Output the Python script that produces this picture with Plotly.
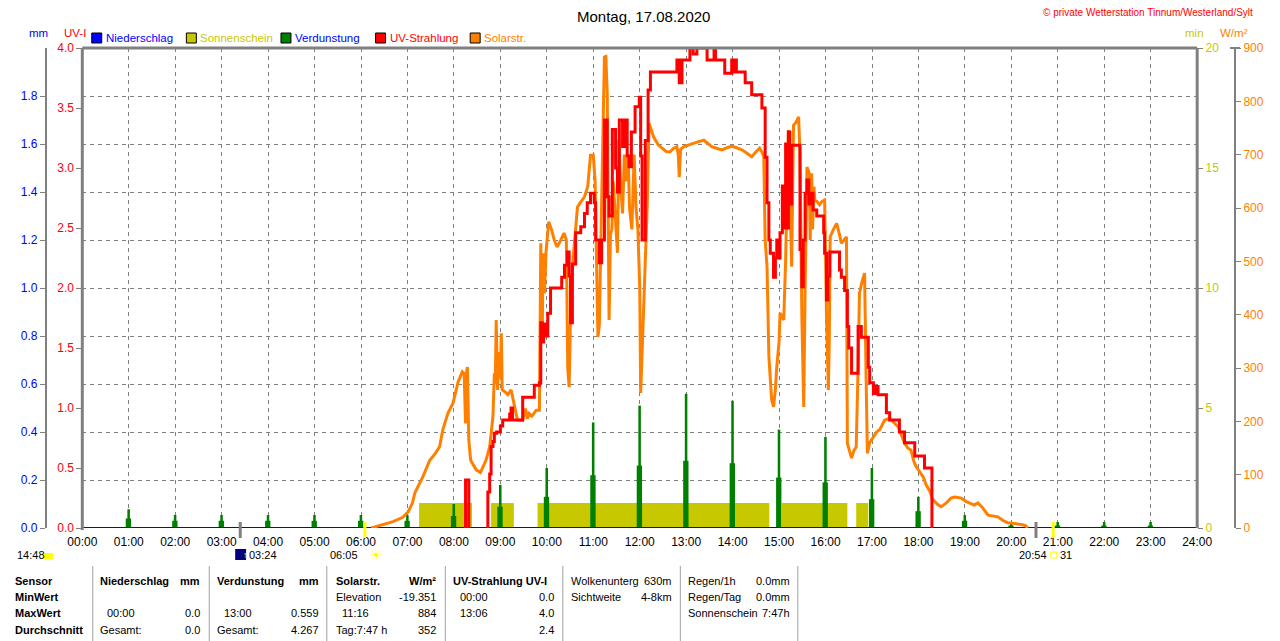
import plotly.graph_objects as go

# the page puts the figure 8px in from the top-left corner,
# so everything below is laid out in reference pixels and shifted by OFF
OFF = 8
W, H = 1280 - OFF, 641 - OFF
ML, MR, MT, MB = 22, 40, 40, 113
PW = W - ML - MR
PH = H - MT - MB


def px(x):
    return (x - OFF - ML) / PW


def py(y):
    return (H - MB - (y - OFF)) / PH


# ---- data -------------------------------------------------------------
hours = list(range(25))
hour_labels = ['%02d:00' % h for h in hours]
mm_ticks = [0.0, 0.2, 0.4, 0.6, 0.8, 1.0, 1.2, 1.4, 1.6, 1.8]

rain_h = [0, 24]
rain_mm = [0.0, 0.0]

sun_start = [7.25, 8.80, 9.80, 15.06, 16.66]
sun_end = [8.39, 9.29, 14.79, 16.47, 16.92]
sun_min = [1.04, 1.04, 1.04, 1.04, 1.04]

verd_h = [1, 2, 3, 4, 5, 6, 7, 8, 9, 10, 11, 12, 13, 14, 15, 16, 17, 18, 19, 20, 21, 22, 23]
verd_mm = [0.078, 0.054, 0.054, 0.054, 0.054, 0.054, 0.054, 0.10, 0.18, 0.25, 0.44, 0.51,
           0.559, 0.53, 0.41, 0.38, 0.25, 0.13, 0.054, 0.025, 0.025, 0.025, 0.025]
verd_low = [0.04, 0.03, 0.03, 0.03, 0.03, 0.03, 0.03, 0.05, 0.089, 0.13, 0.22, 0.26,
            0.28, 0.27, 0.21, 0.19, 0.12, 0.07, 0.03, 0.01, 0.01, 0.01, 0.01]

solar_h = [6.22, 6.40, 6.69, 6.90, 7.01, 7.10, 7.16, 7.33, 7.48, 7.60, 7.69, 7.76, 7.87, 7.98,
           8.09, 8.18, 8.22, 8.25, 8.27, 8.29, 8.31, 8.32, 8.36, 8.48, 8.57, 8.69, 8.77, 8.84,
           8.87, 8.89, 8.91, 8.93, 8.94, 8.97, 9.00, 9.02, 9.04, 9.09, 9.16, 9.23, 9.30, 9.37,
           9.48, 9.54, 9.58, 9.62, 9.68, 9.77, 9.84, 9.85, 9.87, 9.90, 9.92, 9.95, 9.98, 10.04,
           10.10, 10.16, 10.22, 10.30, 10.37, 10.42, 10.45, 10.48, 10.51, 10.56, 10.62, 10.66,
           10.72, 10.81, 10.88, 10.94, 11.00, 11.04, 11.07, 11.10, 11.13, 11.17, 11.21, 11.24,
           11.27, 11.30, 11.32, 11.34, 11.37, 11.40, 11.43, 11.47, 11.52, 11.55, 11.59, 11.63,
           11.67, 11.71, 11.75, 11.78, 11.83, 11.88, 11.92, 11.96, 12.00, 12.02, 12.06, 12.10,
           12.14, 12.16, 12.20, 12.25, 12.30, 12.40, 12.48, 12.57, 12.65, 12.73, 12.80, 12.83,
           12.85, 12.88, 12.95, 13.05, 13.13, 13.25, 13.38, 13.47, 13.55, 13.65, 13.77, 13.88,
           13.98, 14.08, 14.20, 14.30, 14.41, 14.50, 14.58, 14.63, 14.67, 14.70, 14.74, 14.78,
           14.84, 14.88, 14.92, 14.95, 15.00, 15.02, 15.06, 15.10, 15.14, 15.17, 15.20, 15.24,
           15.27, 15.31, 15.36, 15.42, 15.45, 15.49, 15.53, 15.56, 15.60, 15.65, 15.67, 15.70,
           15.72, 15.75, 15.77, 15.82, 15.87, 15.92, 15.98, 16.02, 16.06, 16.08, 16.10, 16.17,
           16.24, 16.30, 16.34, 16.40, 16.45, 16.47, 16.52, 16.56, 16.61, 16.66, 16.70, 16.73,
           16.78, 16.84, 16.87, 16.90, 16.95, 17.03, 17.10, 17.17, 17.27, 17.35, 17.42, 17.49,
           17.56, 17.63, 17.70, 17.77, 17.84, 17.90, 17.95, 18.03, 18.10, 18.17, 18.24, 18.30,
           18.40, 18.49, 18.60, 18.70, 18.77, 18.85, 18.92, 19.02, 19.13, 19.20, 19.28, 19.38,
           19.50, 19.60, 19.71, 19.82, 19.92, 20.03, 20.14, 20.24, 20.31, 20.35]
solar_w = [0, 5, 12, 20, 30, 45, 66, 96, 127, 140, 152, 184, 215, 234,
           274, 293, 290, 196, 290, 302, 200, 165, 127, 109, 104, 127, 152, 209,
           290, 270, 390, 300, 259, 330, 280, 365, 259, 256, 250, 259, 227, 202,
           202, 224, 205, 215, 210, 221, 221, 300, 534, 352, 515, 440, 515, 574,
           560, 540, 527, 540, 553, 540, 300, 264, 400, 500, 560, 602,
           610, 621, 640, 699, 699, 650, 500, 358, 380, 600, 750, 883,
           884, 815, 600, 390, 550, 560, 650, 590, 516, 727, 640, 590,
           700, 650, 700, 600, 560, 700, 600, 560, 450, 253, 350, 456,
           550, 602, 759, 745, 733, 718, 712, 706, 705, 712, 715, 700,
           658, 710, 715, 718, 721, 724, 727, 720, 715, 712, 709, 713,
           716, 713, 709, 703, 696, 705, 712, 705, 696, 540, 490, 321,
           240, 227, 260, 302, 350, 403, 395, 390, 500, 600, 746, 600,
           490, 755, 760, 771, 700, 396, 227, 450, 677, 665, 540, 665,
           560, 640, 615, 612, 606, 612, 615, 400, 259, 350, 546, 560,
           571, 550, 534, 540, 546, 159, 140, 131, 145, 152, 300, 440,
           460, 478, 300, 140, 160, 171, 180, 185, 202, 205, 202, 196,
           190, 175, 159, 150, 146, 125, 115, 105, 96, 80, 70, 55,
           45, 40, 47, 56, 58, 57, 56, 50, 46, 43, 47, 38,
           24, 22, 21, 14, 10, 9, 8, 6, 4, 0]

uv_h = [8.25, 8.25, 8.32, None, 8.73, 8.73, 8.77, 8.80, 8.84, 8.87, 8.92, 9.00, 9.05, 9.20,
        9.23, 9.26, 9.48, 9.55, 9.73, 9.84, 9.87, 9.90, 9.93, 9.96, 10.02, 10.08, 10.32, 10.38,
        10.44, 10.48, 10.51, 10.55, 10.62, 10.73, 10.81, 10.87, 10.94, 11.02, 11.05, 11.13,
        11.18, 11.24, 11.30, 11.34, 11.41, 11.48, 11.52, 11.56, 11.63, 11.68, 11.73, 11.77,
        11.82, 11.90, 11.99, 12.02, 12.05, 12.12, 12.18, 12.23, 12.80, 12.85, 12.91, 13.08,
        13.15, 13.23, 13.45, 13.60, 13.63, 13.83, 13.98, 14.01, 14.05, 14.08, 14.27, 14.41,
        14.63, 14.70, 14.74, 14.78, 14.81, 14.88, 14.92, 14.95, 14.98, 15.02, 15.07, 15.10,
        15.14, 15.17, 15.20, 15.23, 15.27, 15.45, 15.49, 15.52, 15.56, 15.60, 15.64, 15.70,
        15.73, 15.81, 15.96, 15.98, 16.02, 16.05, 16.09, 16.30, 16.34, 16.41, 16.47, 16.50,
        16.56, 16.70, 16.77, 16.92, 16.95, 17.03, 17.09, 17.13, 17.31, 17.38, 17.59, 17.70,
        17.92, 18.13, 18.29]
uv_i = [0.0, 0.4, 0.0, None, 0.0, 0.3, 0.45, 0.68, 0.72, 0.79, 0.8, 0.85, 0.9, 0.95,
        1.0, 0.9, 1.09, 1.09, 1.19, 1.21, 1.71, 1.55, 1.7, 1.6, 1.79, 2.0, 2.09, 2.19,
        2.3, 2.1, 1.71, 2.2, 2.46, 2.51, 2.62, 2.71, 2.79, 2.71, 2.4, 2.21,
        2.4, 3.4, 2.76, 2.6, 3.32, 3.0, 2.8, 3.4, 3.18, 3.4, 3.1, 3.01,
        3.3, 3.51, 3.59, 3.1, 2.4, 3.23, 3.65, 3.8, 3.9, 3.71, 3.9, 4.0,
        3.95, 4.0, 3.9, 4.0, 3.9, 3.79, 3.9, 3.8, 3.9, 3.8, 3.71, 3.61,
        3.5, 3.09, 2.71, 2.4, 2.29, 2.09, 2.25, 2.4, 2.25, 2.46, 2.85, 2.5,
        3.2, 2.5, 3.3, 2.7, 3.19, 2.32, 2.01, 2.4, 2.79, 2.9, 2.7, 2.79,
        2.65, 2.6, 2.46, 2.29, 1.9, 2.1, 2.3, 2.15, 2.09, 1.98, 1.68, 1.5,
        1.29, 1.68, 1.59, 1.34, 1.21, 1.12, 1.18, 1.11, 0.96, 0.9, 0.8, 0.71,
        0.6, 0.5, 0.0]

legend_names = ['Niederschlag', 'Sonnenschein', 'Verdunstung', 'UV-Strahlung', 'Solarstr.']
legend_box = ['#0000ff', '#c8c800', '#008000', '#ff0000', '#ff8000']
legend_text = ['#0000ff', '#c8c800', '#0000ff', '#ff0000', '#ff8000']

astro_gray = [3.40, 20.53]
astro_yellow = [6.083, 20.90]

GRAY = '#808080'
FONT = 'Liberation Sans, Arial, sans-serif'
DASH = '4px,4px'

fig = go.Figure()

# Sonnenschein (min) - lowest layer
sun_mid = [(a + b) / 2 for a, b in zip(sun_start, sun_end)]
sun_w = [b - a for a, b in zip(sun_start, sun_end)]
fig.add_trace(go.Bar(x=sun_mid, y=sun_min, width=sun_w, marker_color='#c8c800',
                     marker_line_width=0, yaxis='y', name='Sonnenschein'))

# Verdunstung + Niederschlag (mm)
fig.add_trace(go.Bar(x=verd_h, y=verd_low, width=0.115, offset=-0.065, marker_color='#008000',
                     marker_line_width=0, yaxis='y2', name='Verdunstung'))
fig.add_trace(go.Bar(x=verd_h, y=verd_mm, width=0.055, offset=-0.03, marker_color='#008000',
                     marker_line_width=0, yaxis='y2', name='Verdunstung'))
fig.add_trace(go.Scatter(x=rain_h, y=rain_mm, mode='lines', line=dict(color='#0000ff', width=2),
                         yaxis='y2', name='Niederschlag'))

# Solarstrahlung
fig.add_trace(go.Scatter(x=solar_h, y=solar_w, mode='lines', line=dict(color='#ff8000', width=3),
                         yaxis='y3', name='Solarstr.'))

# UV
fig.add_trace(go.Scatter(x=uv_h, y=uv_i, mode='lines', line=dict(color='#ff0000', width=3, shape='hv'),
                         connectgaps=False, yaxis='y4', name='UV-Strahlung'))

fig.update_layout(
    width=W, height=H,
    margin=dict(l=ML, r=MR, t=MT, b=MB),
    paper_bgcolor='white', plot_bgcolor='white',
    font=dict(family=FONT, size=12, color='black'),
    showlegend=False,
    barmode='overlay',
    xaxis=dict(domain=[px(77.5), px(1197)], range=[0, 24], tickvals=hours, ticktext=hour_labels,
               showgrid=True, gridcolor=GRAY, griddash=DASH, gridwidth=1, zeroline=False,
               showline=False, ticks='', ticklabelstandoff=5,
               tickfont=dict(size=12, color='black')),
    yaxis=dict(range=[0, 20], side='right', anchor='x', tickvals=[0, 5, 10, 15, 20],
               tickfont=dict(color='#c8c800', size=12), ticks='outside', ticklen=5,
               tickcolor=GRAY, showgrid=False, zeroline=False, showline=False),
    yaxis2=dict(overlaying='y', anchor='free', position=px(41), side='left', range=[0, 2],
                tickvals=mm_ticks, tickformat='.1f', tickfont=dict(color='#0000ff', size=12),
                showline=True, linecolor=GRAY, linewidth=2, ticks='outside', ticklen=5,
                tickcolor=GRAY, showgrid=True, gridcolor=GRAY, griddash=DASH, zeroline=False),
    yaxis3=dict(overlaying='y', anchor='free', position=px(1235), side='right', range=[0, 900],
                dtick=100, tickfont=dict(color='#ff8000', size=12), showline=True, linecolor=GRAY,
                linewidth=2, ticks='outside', ticklen=5, tickcolor=GRAY, showgrid=False,
                zeroline=False),
    yaxis4=dict(overlaying='y', anchor='x', side='left', range=[0, 4], dtick=0.5, tickformat='.1f',
                tickfont=dict(color='#ff0000', size=12), ticks='outside', ticklen=5,
                tickcolor=GRAY, showgrid=False, zeroline=False, showline=False),
)

shapes = []
annots = []

# frame (top, left, right); bottom is the blue zero line
for x0, y0, x1, y1 in [(77.5, 48, 1197, 48), (77.5, 48, 77.5, 530), (1197, 48, 1197, 528)]:
    shapes.append(dict(type='line', xref='paper', yref='paper', x0=px(x0), y0=py(y0),
                       x1=px(x1), y1=py(y1), line=dict(color=GRAY, width=3), layer='above'))
# cap on the W/m² axis
shapes.append(dict(type='line', xref='paper', yref='paper', x0=px(1230), x1=px(1240),
                   y0=py(48), y1=py(48), line=dict(color=GRAY, width=2)))

# legend
for i, (name, bc, tc) in enumerate(zip(legend_names, legend_box, legend_text)):
    cx = 92 + i * 95
    shapes.append(dict(type='rect', xref='paper', yref='paper', x0=px(cx - 5), x1=px(cx + 5),
                       y0=py(43), y1=py(33), fillcolor=bc, line=dict(color='black', width=1)))
    annots.append(dict(x=px(cx + 7), y=py(38), text=name, xanchor='left', yanchor='middle',
                       font=dict(color=tc, size=11.5)))

# axis titles, title, copyright
annots += [
    dict(x=px(22), y=py(33), text='mm', font=dict(color='#0000ff', size=11.5)),
    dict(x=px(57), y=py(33), text='UV-I', font=dict(color='#ff0000', size=11.5)),
    dict(x=px(1206), y=py(33), text='min', font=dict(color='#c8c800', size=11.5)),
    dict(x=px(1250), y=py(33), text='W/m²', font=dict(color='#ff8000', size=11.5)),
    dict(x=px(641), y=py(16), text='Montag, 17.08.2020', font=dict(color='black', size=15)),
    dict(x=px(1040), y=py(12), text='© private Wetterstation Tinnum/Westerland/Sylt',
         xanchor='left', font=dict(color='#ff0000', size=10)),
]

# sun / moon markers below the time axis
for t in astro_gray:
    shapes.append(dict(type='line', xref='x', yref='paper', x0=t, x1=t, y0=py(522), y1=py(538),
                       line=dict(color=GRAY, width=3)))
for t in astro_yellow:
    shapes.append(dict(type='line', xref='x', yref='paper', x0=t, x1=t, y0=py(522), y1=py(538),
                       line=dict(color='#ffff00', width=3)))
MY = 555
shapes.append(dict(type='rect', xref='paper', yref='paper', x0=px(39), x1=px(48), y0=py(MY + 4),
                   y1=py(MY - 2), fillcolor='#ffff00', line_width=0))
shapes.append(dict(type='rect', xref='paper', yref='paper', x0=px(231), x1=px(242), y0=py(MY + 5),
                   y1=py(MY - 6), fillcolor='#000080', line_width=0))
shapes.append(dict(type='rect', xref='paper', yref='paper', x0=px(1050), x1=px(1056), y0=py(MY + 3),
                   y1=py(MY - 3), line=dict(color='#ffff00', width=1)))
annots += [
    dict(x=px(10), y=py(MY), text='14:48', xanchor='left', font=dict(size=11)),
    dict(x=px(236.5), y=py(MY), text='<b>↑</b>', font=dict(color='#ffff00', size=9)),
    dict(x=px(243), y=py(MY), text='03:24', xanchor='left', font=dict(size=11)),
    dict(x=px(356), y=py(MY), text='06:05', xanchor='right', font=dict(size=11)),
    dict(x=px(364), y=py(MY), text='☀', font=dict(color='#ffff00', size=14)),
    dict(x=px(1048), y=py(MY), text='20:54', xanchor='right', font=dict(size=11)),
    dict(x=px(1057), y=py(MY), text='31', xanchor='left', font=dict(size=11)),
]

# statistics table
for x in [88, 205, 323, 442, 560, 678, 796]:
    shapes.append(dict(type='line', xref='paper', yref='paper', x0=px(x), x1=px(x), y0=py(566),
                       y1=py(641), line=dict(color='#a0a0a0', width=1)))
rows = [581, 597, 613, 630]
table = [
    (8, 0, '<b>Sensor</b>', 'left'), (8, 1, '<b>MinWert</b>', 'left'),
    (8, 2, '<b>MaxWert</b>', 'left'), (8, 3, '<b>Durchschnitt</b>', 'left'),
    (93, 0, '<b>Niederschlag</b>', 'left'), (198, 0, '<b>mm</b>', 'right'),
    (100, 2, '00:00', 'left'), (198, 2, '0.0', 'right'),
    (93, 3, 'Gesamt:', 'left'), (198, 3, '0.0', 'right'),
    (211, 0, '<b>Verdunstung</b>', 'left'), (317, 0, '<b>mm</b>', 'right'),
    (218, 2, '13:00', 'left'), (317, 2, '0.559', 'right'),
    (211, 3, 'Gesamt:', 'left'), (317, 3, '4.267', 'right'),
    (330, 0, '<b>Solarstr.</b>', 'left'), (435, 0, '<b>W/m²</b>', 'right'),
    (330, 1, 'Elevation', 'left'), (435, 1, '-19.351', 'right'),
    (336, 2, '11:16', 'left'), (435, 2, '884', 'right'),
    (330, 3, 'Tag:7:47 h', 'left'), (435, 3, '352', 'right'),
    (448, 0, '<b>UV-Strahlung UV-I</b>', 'left'),
    (455, 1, '00:00', 'left'), (553, 1, '0.0', 'right'),
    (455, 2, '13:06', 'left'), (553, 2, '4.0', 'right'),
    (553, 3, '2.4', 'right'),
    (566, 0, 'Wolkenunterg', 'left'), (672, 0, '630m', 'right'),
    (566, 1, 'Sichtweite', 'left'), (672, 1, '4-8km', 'right'),
    (684, 0, 'Regen/1h', 'left'), (790, 0, '0.0mm', 'right'),
    (684, 1, 'Regen/Tag', 'left'), (790, 1, '0.0mm', 'right'),
    (684, 2, 'Sonnenschein', 'left'), (790, 2, '7:47h', 'right'),
]
for x, r, txt, anc in table:
    annots.append(dict(x=px(x), y=py(rows[r]), text=txt, xanchor=anc, font=dict(size=11)))

for a in annots:
    a.setdefault('xref', 'paper')
    a.setdefault('yref', 'paper')
    a.setdefault('showarrow', False)
    a.setdefault('yanchor', 'middle')

fig.update_layout(shapes=shapes, annotations=annots)

fig.write_html("out.html")
